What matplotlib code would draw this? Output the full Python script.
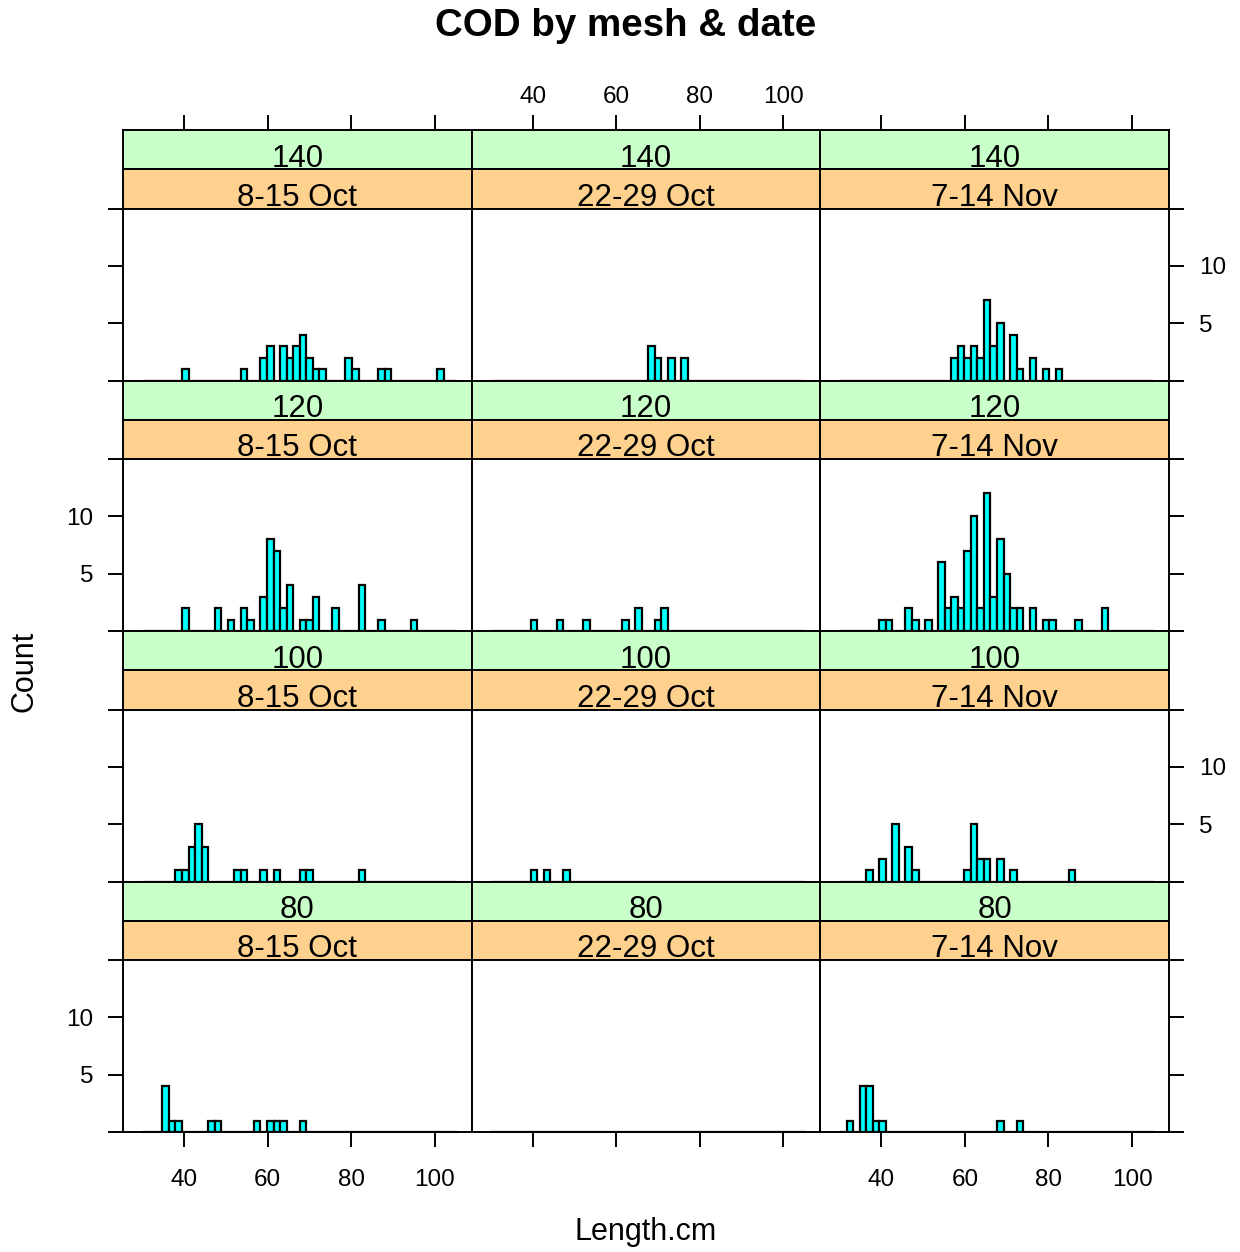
import matplotlib
matplotlib.use('Agg')

import matplotlib.pyplot as plt
import numpy as np

plt.rcParams['font.family'] = ['Liberation Sans', 'DejaVu Sans']

meshes = ['140', '120', '100', '80']
dates = ['8-15 Oct', '22-29 Oct', '7-14 Nov']

# length class (cm) and number of cod caught, per mesh size and date
len_140_oct8 = [40.3, 54.4, 59.1, 60.6, 63.8, 65.3, 66.9, 68.5, 70.0, 71.6, 73.2, 79.4, 81.0, 87.3, 88.8, 101.3]
n_140_oct8 = [1, 1, 2, 3, 3, 2, 3, 4, 2, 1, 1, 2, 1, 1, 1, 1]
len_140_oct22 = [68.5, 70.0, 73.2, 76.3]
n_140_oct22 = [3, 2, 2, 2]
len_140_nov7 = [57.5, 59.1, 60.6, 62.2, 63.8, 65.3, 66.9, 68.5, 71.6, 73.2, 76.3, 79.4, 82.6]
n_140_nov7 = [2, 3, 2, 3, 2, 7, 3, 5, 4, 1, 2, 1, 1]

len_120_oct8 = [40.3, 48.1, 51.3, 54.4, 55.9, 59.1, 60.6, 62.2, 63.8, 65.3, 68.5, 70.0, 71.6, 76.3, 82.6, 87.3, 95.1]
n_120_oct8 = [2, 2, 1, 2, 1, 3, 8, 7, 2, 4, 1, 1, 3, 2, 4, 1, 1]
len_120_oct22 = [40.3, 46.6, 52.8, 62.2, 65.3, 70.0, 71.6]
n_120_oct22 = [1, 1, 1, 1, 2, 1, 2]
len_120_nov7 = [40.3, 41.9, 46.6, 48.1, 51.3, 54.4, 55.9, 57.5, 59.1, 60.6, 62.2, 63.8,
                65.3, 66.9, 68.5, 70.0, 71.6, 73.2, 76.3, 79.4, 81.0, 87.3, 93.5]
n_120_nov7 = [1, 1, 2, 1, 1, 6, 2, 3, 2, 7, 10, 2, 12, 3, 8, 5, 2, 2, 2, 1, 1, 1, 2]

len_100_oct8 = [38.7, 40.3, 41.9, 43.4, 45.0, 52.8, 54.4, 59.1, 62.2, 68.5, 70.0, 82.6]
n_100_oct8 = [1, 1, 3, 5, 3, 1, 1, 1, 1, 1, 1, 1]
len_100_oct22 = [40.3, 43.4, 48.1]
n_100_oct22 = [1, 1, 1]
len_100_nov7 = [37.2, 40.3, 43.4, 46.6, 48.1, 60.6, 62.2, 63.8, 65.3, 68.5, 71.6, 85.7]
n_100_nov7 = [1, 2, 5, 3, 1, 1, 5, 2, 2, 2, 1, 1]

len_80_oct8 = [35.6, 37.2, 38.7, 46.6, 48.1, 57.5, 60.6, 62.2, 63.8, 68.5]
n_80_oct8 = [4, 1, 1, 1, 1, 1, 1, 1, 1, 1]
len_80_oct22 = []
n_80_oct22 = []
len_80_nov7 = [32.5, 35.6, 37.2, 38.7, 40.3, 68.5, 73.2]
n_80_nov7 = [1, 4, 4, 1, 1, 1, 1]

x_ticks = [40, 60, 80, 100]
y_ticks = [0, 5, 10, 15]
y_ticklabels = ['', '5', '10', '']

panels = {
    ('140', '8-15 Oct'): (len_140_oct8, n_140_oct8),
    ('140', '22-29 Oct'): (len_140_oct22, n_140_oct22),
    ('140', '7-14 Nov'): (len_140_nov7, n_140_nov7),
    ('120', '8-15 Oct'): (len_120_oct8, n_120_oct8),
    ('120', '22-29 Oct'): (len_120_oct22, n_120_oct22),
    ('120', '7-14 Nov'): (len_120_nov7, n_120_nov7),
    ('100', '8-15 Oct'): (len_100_oct8, n_100_oct8),
    ('100', '22-29 Oct'): (len_100_oct22, n_100_oct22),
    ('100', '7-14 Nov'): (len_100_nov7, n_100_nov7),
    ('80', '8-15 Oct'): (len_80_oct8, n_80_oct8),
    ('80', '22-29 Oct'): (len_80_oct22, n_80_oct22),
    ('80', '7-14 Nov'): (len_80_nov7, n_80_nov7),
}

breaks = np.linspace(30.13, 105.25, 49)
xlim = (25.4, 108.85)
ylim = (0, 15)

W, H = 1240, 1252
fig = plt.figure(figsize=(W / 100, H / 100), dpi=100)


def box(x0, y0, x1, y1):
    # pixel box (top-left origin) -> figure fraction rect
    return [x0 / W, 1 - y1 / H, (x1 - x0) / W, (y1 - y0) / H]


col_edges = np.linspace(123, 1169, 4)
top = 130
block = 250.5
strip_h = 39.25
panel_h = 172
lw = 1.4
bar_lw = 1.6
tick_len = 10.5
label_size = 17.5
strip_size = 22.5


def style_spines(ax):
    for sp in ax.spines.values():
        sp.set_linewidth(lw)
        sp.set_color('black')


for r, mesh in enumerate(meshes):
    y0 = top + block * r
    for c, date in enumerate(dates):
        x0, x1 = col_edges[c], col_edges[c + 1]

        s1 = fig.add_axes(box(x0, y0, x1, y0 + strip_h))
        s2 = fig.add_axes(box(x0, y0 + strip_h, x1, y0 + 2 * strip_h))
        for s, colour, label in [(s1, '#C9FFC9', mesh), (s2, '#FFD18F', date)]:
            s.set_facecolor(colour)
            s.set_xlim(xlim)
            s.set_ylim(0, 1)
            s.set_yticks([])
            s.set_xticks([])
            style_spines(s)
            s.text(0.5, 0.07, label, transform=s.transAxes, ha='center',
                   va='baseline', fontsize=strip_size)
        if r == 0:
            s1.xaxis.set_ticks_position('top')
            s1.set_xticks(x_ticks)
            s1.set_xticklabels([str(t) for t in x_ticks] if c == 1 else [''] * 4)
            s1.tick_params(axis='x', direction='out', length=tick_len, width=lw,
                           pad=5.5, labelsize=label_size)

        ax = fig.add_axes(box(x0, y0 + 2 * strip_h, x1, y0 + 2 * strip_h + panel_h))
        lengths, counts = panels[(mesh, date)]
        ax.hist(lengths, bins=breaks, weights=counts, color='#00FFFF',
                edgecolor='black', linewidth=bar_lw)
        ax.plot([breaks[0], breaks[-1]], [0, 0], color='black', lw=lw,
                clip_on=False, zorder=3)
        ax.set_xlim(xlim)
        ax.set_ylim(ylim)
        style_spines(ax)

        # y axis: ticks on the outer columns only, labels alternate by row
        if c == 0 or c == len(dates) - 1:
            ax.set_yticks(y_ticks)
            ax.set_yticklabels(y_ticklabels)
            ax.tick_params(axis='y', left=(c == 0), right=(c == len(dates) - 1),
                           labelleft=(c == 0 and r % 2 == 1),
                           labelright=(c == len(dates) - 1 and r % 2 == 0),
                           direction='out', length=tick_len, width=lw, pad=11,
                           labelsize=label_size)
        else:
            ax.set_yticks([])

        if r == len(meshes) - 1:
            ax.set_xticks(x_ticks)
            ax.set_xticklabels([str(t) for t in x_ticks] if c != 1 else [''] * 4)
            ax.tick_params(axis='x', direction='out', length=tick_len, width=lw,
                           pad=16, labelsize=label_size)
        else:
            ax.set_xticks([])

fig.text(626 / W, 1 - 26 / H, 'COD by mesh & date', ha='center', va='center',
         fontsize=27.7, fontweight='bold')
fig.text(25 / W, 1 - 671 / H, 'Count', rotation=90, ha='center', va='center',
         fontsize=22)
fig.text(646 / W, 1 - 1232 / H, 'Length.cm', ha='center', va='center', fontsize=22)

fig.savefig('out.png', dpi=100)
plt.close(fig)
